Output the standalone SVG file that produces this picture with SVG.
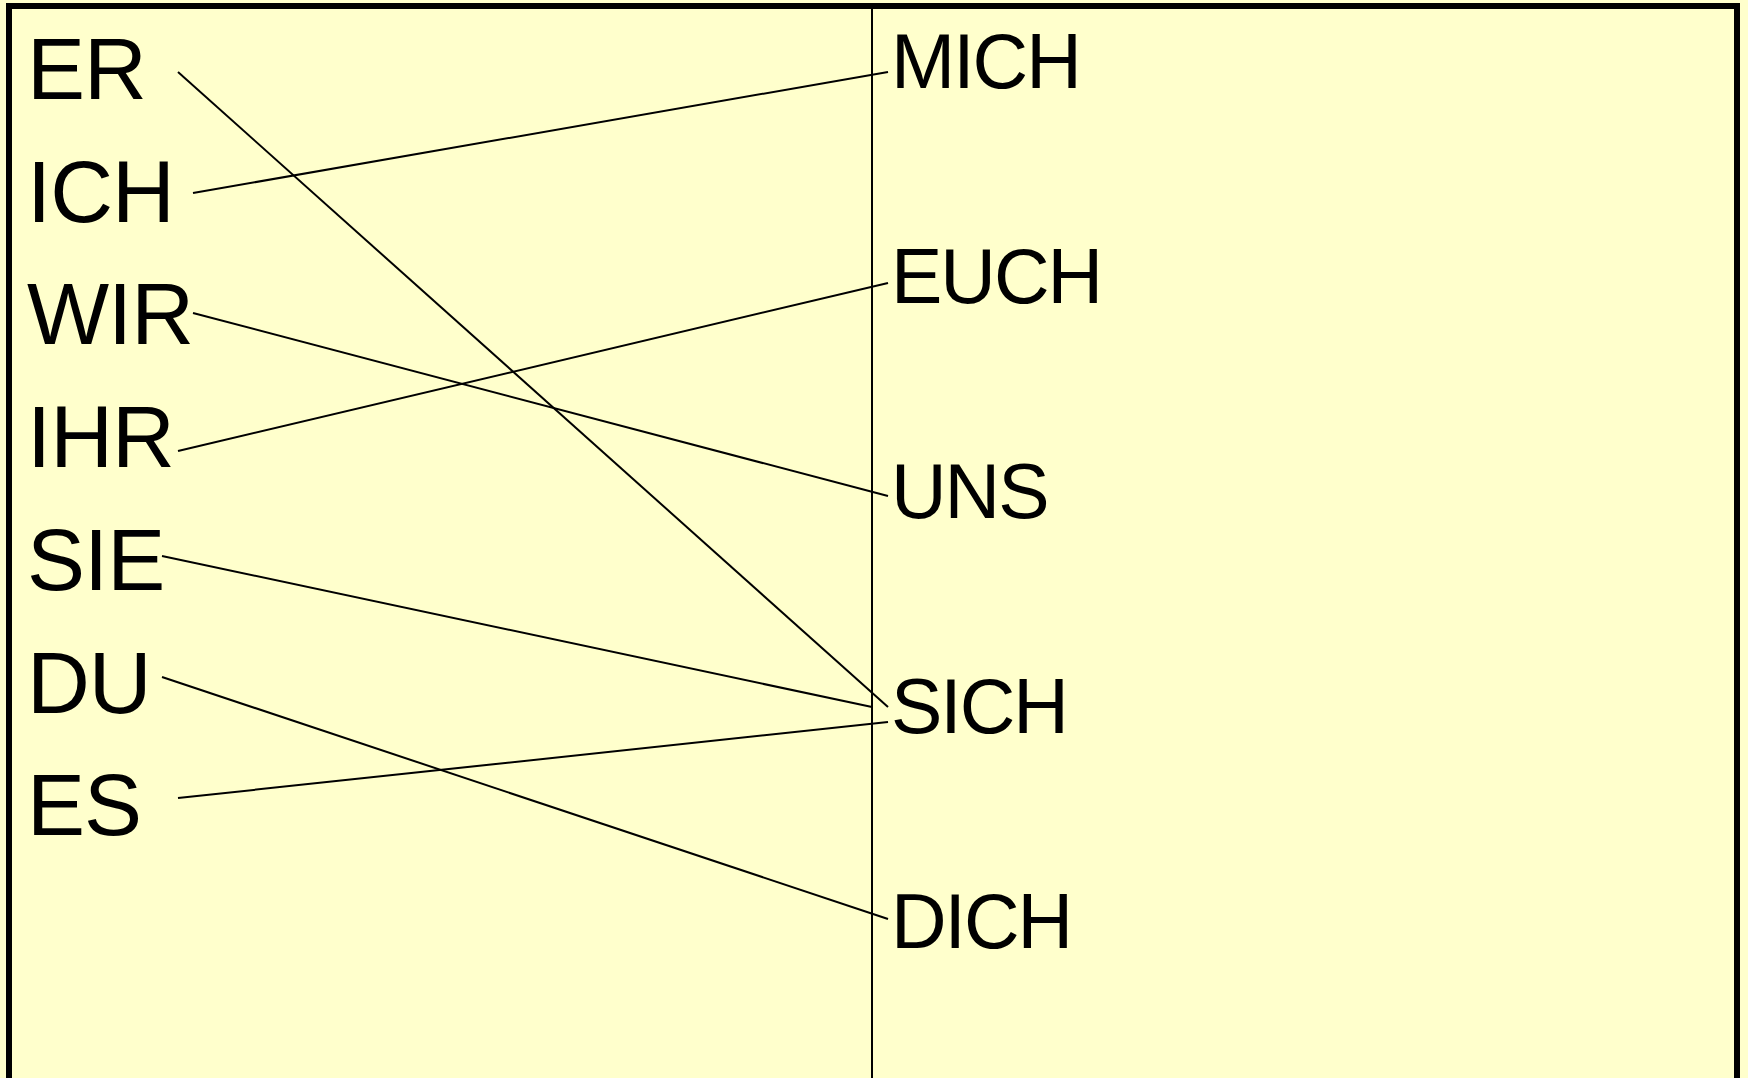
<svg xmlns="http://www.w3.org/2000/svg" width="1748" height="1078" viewBox="0 0 1748 1078">
<style>
.bg{fill:#FFFFCC}
.frame{fill:none;stroke:#000;stroke-width:6}
.div{stroke:#000;stroke-width:2}
.l{font-family:"Liberation Sans",Arial,sans-serif;font-size:87px;letter-spacing:-1px;fill:#000}
.r{font-family:"Liberation Sans",Arial,sans-serif;font-size:77px;letter-spacing:-2px;fill:#000}
.c line{stroke:#000;stroke-width:2}
</style>
<rect class="bg" x="0" y="0" width="1748" height="1078"/>
<rect class="frame" x="9" y="6" width="1728" height="1100"/>
<line class="div" x1="872" y1="9" x2="872" y2="1078"/>
<g id="er"><text class="l" x="27" y="99">ER</text></g>
<g id="ich"><text class="l" x="27" y="222">ICH</text></g>
<g id="wir"><text class="l" x="27" y="344">WIR</text></g>
<g id="ihr"><text class="l" x="27" y="467">IHR</text></g>
<g id="sie"><text class="l" x="27" y="590">SIE</text></g>
<g id="du"><text class="l" x="27" y="713">DU</text></g>
<g id="es"><text class="l" x="27" y="835">ES</text></g>
<g id="mich"><text class="r" x="891" y="88">MICH</text></g>
<g id="euch"><text class="r" x="891" y="303">EUCH</text></g>
<g id="uns"><text class="r" x="891" y="518">UNS</text></g>
<g id="sich"><text class="r" x="891" y="733">SICH</text></g>
<g id="dich"><text class="r" x="891" y="948">DICH</text></g>
<g id="connectors" class="c">
<line x1="178" y1="72" x2="888" y2="707"/>
<line x1="193" y1="193" x2="888" y2="72"/>
<line x1="193" y1="313" x2="888" y2="496"/>
<line x1="178" y1="451" x2="888" y2="283"/>
<line x1="162" y1="556" x2="872" y2="707"/>
<line x1="162" y1="677" x2="888" y2="919"/>
<line x1="178" y1="798" x2="888" y2="722"/>
</g>
</svg>
